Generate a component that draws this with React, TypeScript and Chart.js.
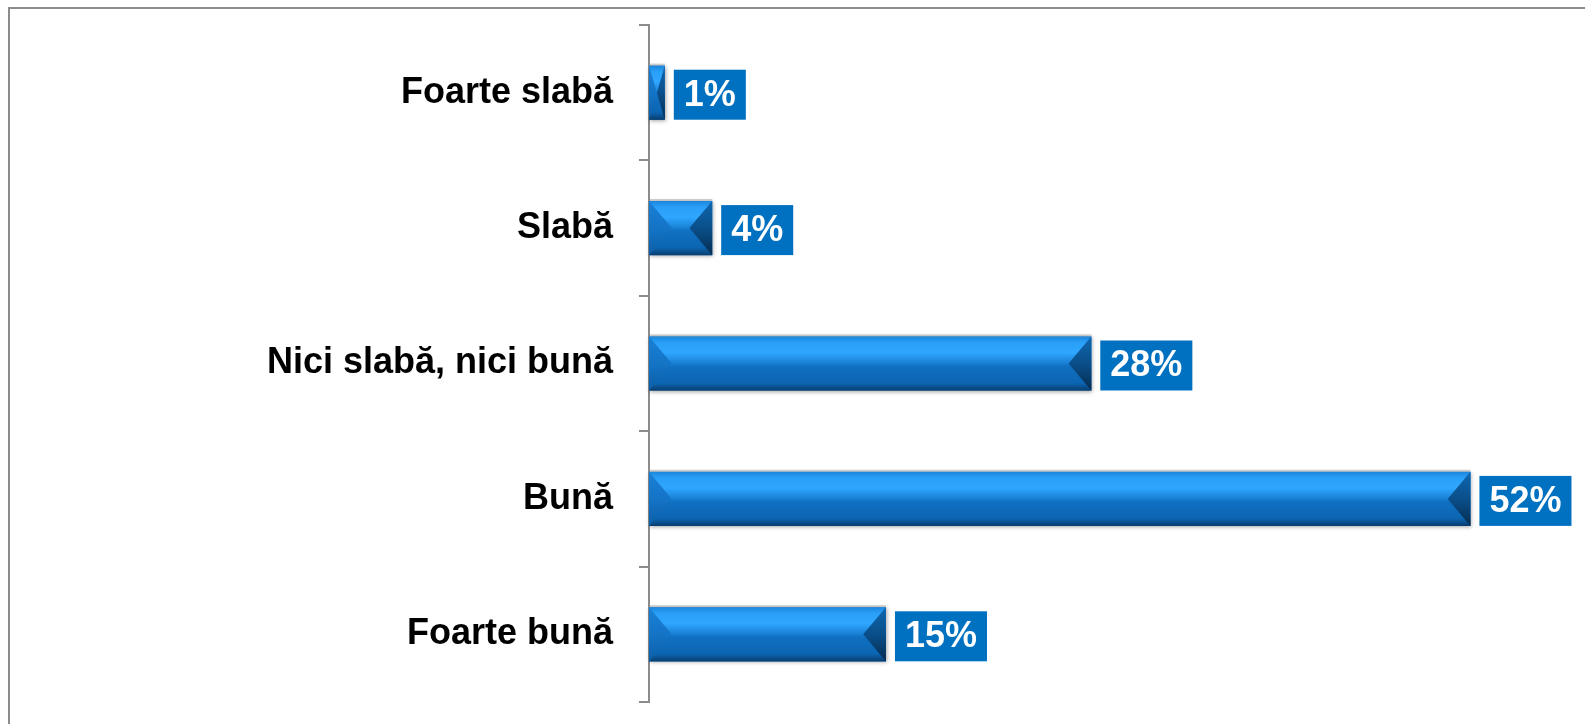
import React, { useEffect, useRef } from "react";
import { Chart, registerables } from "chart.js";

Chart.register(...registerables);

const categories = ["Foarte slabă", "Slabă", "Nici slabă, nici bună", "Bună", "Foarte bună"];
const values = [1, 4, 28, 52, 15];
const valueLabels = ["1%", "4%", "28%", "52%", "15%"];

const FONT = "'Liberation Sans', Arial, Helvetica, sans-serif";
const AXIS_GRAY = "#8c8c8c";

const bevelPlugin = {
  id: "bevelBars",
  afterDatasetsDraw(chart: any) {
    const ctx = chart.ctx as CanvasRenderingContext2D;
    const meta = chart.getDatasetMeta(0);
    meta.data.forEach((el: any) => {
      const { x, y, base, height } = el.getProps(["x", "y", "base", "height"], true);
      const x0 = Math.min(x, base);
      const x1 = Math.max(x, base);
      const y0 = y - height / 2;
      const y1 = y + height / 2;
      const w = x1 - x0;
      ctx.save();
      ctx.shadowColor = "rgba(0,0,0,0.35)";
      ctx.shadowBlur = 4;
      ctx.shadowOffsetX = 1;
      ctx.shadowOffsetY = 1;
      const g = ctx.createLinearGradient(0, y0, 0, y1);
      g.addColorStop(0, "#1b86dc");
      g.addColorStop(0.12, "#2aa0f8");
      g.addColorStop(0.3, "#2fa6ff");
      g.addColorStop(0.48, "#1a84d8");
      g.addColorStop(0.55, "#1070c2");
      g.addColorStop(0.86, "#0c65b2");
      g.addColorStop(1, "#083d6e");
      ctx.fillStyle = g;
      ctx.fillRect(x0, y0, w, height);
      ctx.shadowColor = "transparent";
      // faint light-gray outline on top
      ctx.fillStyle = "rgba(150,150,150,0.45)";
      ctx.fillRect(x0, y0 - 2, w, 2);
      const b = Math.min(height * 0.42, w / 2);
      // left facet
      const gl = ctx.createLinearGradient(0, y0, 0, y1);
      gl.addColorStop(0, "#1a80d6");
      gl.addColorStop(0.5, "#1474c6");
      gl.addColorStop(1, "#0c5ea6");
      ctx.fillStyle = gl;
      ctx.beginPath();
      ctx.moveTo(x0, y0);
      ctx.lineTo(x0 + b, y);
      ctx.lineTo(x0, y1);
      ctx.closePath();
      ctx.fill();
      // right facet
      const gr = ctx.createLinearGradient(0, y0, 0, y1);
      gr.addColorStop(0, "#0f66ae");
      gr.addColorStop(0.5, "#0a4f8a");
      gr.addColorStop(1, "#052c50");
      ctx.fillStyle = gr;
      ctx.beginPath();
      ctx.moveTo(x1, y0);
      ctx.lineTo(x1 - b, y);
      ctx.lineTo(x1, y1);
      ctx.closePath();
      ctx.fill();
      ctx.restore();
    });
  },
  afterDraw(chart: any) {
    const ctx = chart.ctx as CanvasRenderingContext2D;
    const meta = chart.getDatasetMeta(0);
    ctx.save();
    ctx.font = `bold 36px ${FONT}`;
    ctx.textBaseline = "middle";
    ctx.textAlign = "left";
    meta.data.forEach((el: any, i: number) => {
      const { x, y } = el.getProps(["x", "y"], true);
      const text = valueLabels[i];
      const tw = ctx.measureText(text).width;
      const bx = x + 9;
      const bw = tw + 20;
      const bh = 50;
      ctx.fillStyle = "#0070c0";
      ctx.fillRect(bx, y - bh / 2 + 2, bw, bh);
      ctx.fillStyle = "#ffffff";
      ctx.fillText(text, bx + 10, y + 3);
    });
    ctx.restore();
  },
};

function BarChart() {
  const ref = useRef<HTMLCanvasElement | null>(null);
  useEffect(() => {
    if (!ref.current) return;
    const chart = new Chart(ref.current, {
      type: "bar",
      data: {
        labels: categories,
        datasets: [
          {
            data: values,
            backgroundColor: "#1a80d6",
            borderWidth: 0,
            categoryPercentage: 1,
            barPercentage: 0.4,
          },
        ],
      },
      options: {
        indexAxis: "y",
        responsive: false,
        animation: false,
        layout: { padding: { left: 0, right: 4, top: 25, bottom: 22 } },
        plugins: {
          legend: { display: false },
          tooltip: { enabled: false },
          title: { display: false },
        },
        scales: {
          x: {
            display: false,
            min: 0,
            max: 59,
          },
          y: {
            offset: true,
            afterFit: (scale: any) => {
              scale.width = 649;
              scale.paddingTop = 0;
              scale.paddingBottom = 0;
            },
            border: { display: true, color: AXIS_GRAY, width: 2 },
            grid: {
              offset: true,
              drawOnChartArea: false,
              drawTicks: true,
              tickLength: 10,
              color: AXIS_GRAY,
              lineWidth: 2,
            },
            ticks: {
              color: "#000000",
              padding: 26,
              font: { family: FONT, size: 36, weight: "bold" },
            },
          },
        },
      },
      plugins: [bevelPlugin],
    });
    return () => chart.destroy();
  }, []);
  return <canvas ref={ref} width={1585} height={724} style={{ display: "block" }} />;
}

export default function App() {
  return (
    <div
      style={{
        position: "fixed",
        left: 0,
        top: 0,
        width: 1585,
        height: 724,
        overflow: "hidden",
        background: "#ffffff",
      }}
    >
      <div
        style={{
          position: "absolute",
          left: 8,
          top: 7,
          width: 1700,
          height: 900,
          borderTop: `2px solid ${AXIS_GRAY}`,
          borderLeft: `2px solid ${AXIS_GRAY}`,
        }}
      />
      <div style={{ position: "absolute", left: 0, top: 0 }}>
        <BarChart />
      </div>
    </div>
  );
}
